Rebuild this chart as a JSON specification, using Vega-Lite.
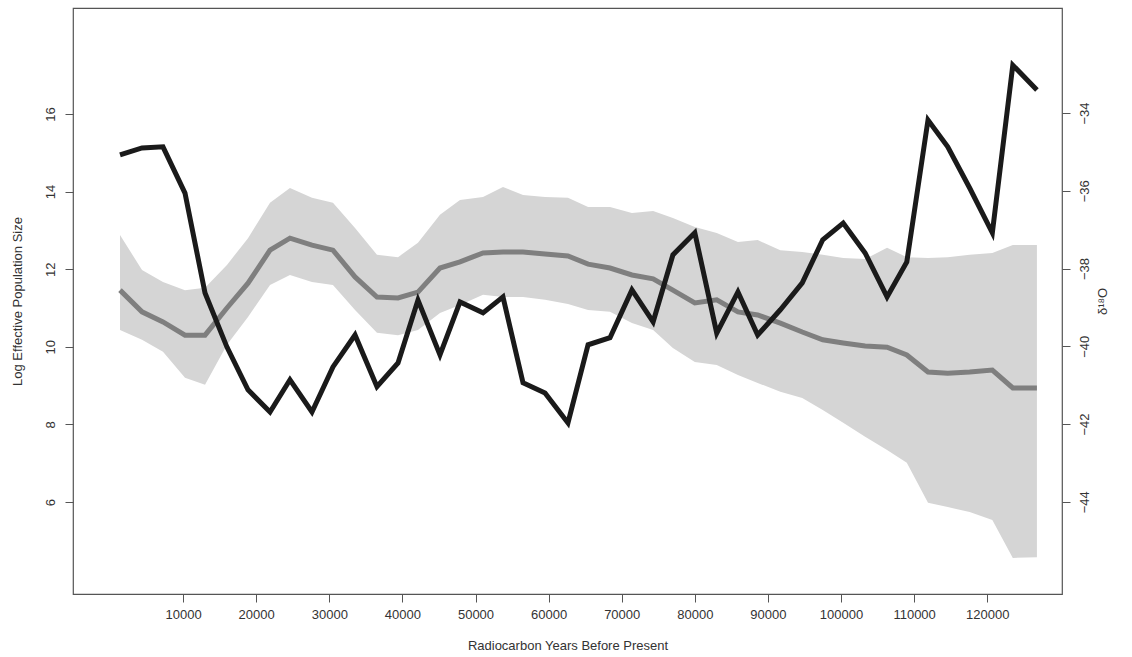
{
  "$schema": "https://vega.github.io/schema/vega-lite/v6.json",
  "width": 989,
  "height": 586,
  "autosize": {"type": "none"},
  "padding": {"left": 73, "top": 8, "right": 70, "bottom": 63},
  "background": "white",
  "config": {
    "view": {"stroke": "#555", "strokeWidth": 1.2},
    "axis": {"grid": false, "labelFont": "Liberation Sans", "titleFont": "Liberation Sans", "labelFontSize": 13, "titleFontSize": 13, "titleFontWeight": "normal", "labelColor": "#333", "titleColor": "#333", "domainColor": "#555", "tickColor": "#555", "tickSize": 8}
  },
  "data": {
    "values": [
      {"year": 1370, "mean": 11.46, "hi": 12.88, "lo": 10.43, "d18o": -35.08},
      {"year": 4380, "mean": 10.90, "hi": 11.98, "lo": 10.18, "d18o": -34.90},
      {"year": 7250, "mean": 10.64, "hi": 11.67, "lo": 9.87, "d18o": -34.87},
      {"year": 10260, "mean": 10.30, "hi": 11.46, "lo": 9.20, "d18o": -36.06},
      {"year": 13000, "mean": 10.30, "hi": 11.52, "lo": 9.02, "d18o": -38.63},
      {"year": 16000, "mean": 11.00, "hi": 12.11, "lo": 10.05, "d18o": -40.02},
      {"year": 18880, "mean": 11.64, "hi": 12.80, "lo": 10.77, "d18o": -41.12},
      {"year": 21890, "mean": 12.49, "hi": 13.71, "lo": 11.59, "d18o": -41.69},
      {"year": 24620, "mean": 12.80, "hi": 14.09, "lo": 11.85, "d18o": -40.86},
      {"year": 27630, "mean": 12.62, "hi": 13.84, "lo": 11.67, "d18o": -41.69},
      {"year": 30500, "mean": 12.49, "hi": 13.71, "lo": 11.59, "d18o": -40.53},
      {"year": 33520, "mean": 11.80, "hi": 13.06, "lo": 10.95, "d18o": -39.71},
      {"year": 36520, "mean": 11.28, "hi": 12.37, "lo": 10.36, "d18o": -41.04},
      {"year": 39400, "mean": 11.26, "hi": 12.31, "lo": 10.30, "d18o": -40.43},
      {"year": 42130, "mean": 11.41, "hi": 12.68, "lo": 10.43, "d18o": -38.81},
      {"year": 45140, "mean": 12.03, "hi": 13.40, "lo": 10.87, "d18o": -40.22},
      {"year": 47880, "mean": 12.19, "hi": 13.78, "lo": 11.08, "d18o": -38.86},
      {"year": 51030, "mean": 12.42, "hi": 13.86, "lo": 11.34, "d18o": -39.14},
      {"year": 53760, "mean": 12.44, "hi": 14.12, "lo": 11.28, "d18o": -38.73},
      {"year": 56500, "mean": 12.44, "hi": 13.91, "lo": 11.28, "d18o": -40.94},
      {"year": 59510, "mean": 12.39, "hi": 13.86, "lo": 11.21, "d18o": -41.20},
      {"year": 62650, "mean": 12.34, "hi": 13.84, "lo": 11.10, "d18o": -41.97},
      {"year": 65400, "mean": 12.13, "hi": 13.60, "lo": 10.95, "d18o": -39.96},
      {"year": 68400, "mean": 12.03, "hi": 13.60, "lo": 10.90, "d18o": -39.78},
      {"year": 71400, "mean": 11.85, "hi": 13.45, "lo": 10.61, "d18o": -38.55},
      {"year": 74300, "mean": 11.75, "hi": 13.50, "lo": 10.43, "d18o": -39.37},
      {"year": 77000, "mean": 11.46, "hi": 13.32, "lo": 9.97, "d18o": -37.65},
      {"year": 80000, "mean": 11.13, "hi": 13.09, "lo": 9.61, "d18o": -37.08},
      {"year": 83000, "mean": 11.21, "hi": 12.93, "lo": 9.53, "d18o": -39.66},
      {"year": 85900, "mean": 10.90, "hi": 12.70, "lo": 9.27, "d18o": -38.60},
      {"year": 88600, "mean": 10.82, "hi": 12.75, "lo": 9.07, "d18o": -39.71},
      {"year": 91700, "mean": 10.61, "hi": 12.49, "lo": 8.84, "d18o": -39.06},
      {"year": 94700, "mean": 10.38, "hi": 12.44, "lo": 8.68, "d18o": -38.37},
      {"year": 97500, "mean": 10.18, "hi": 12.37, "lo": 8.37, "d18o": -37.26},
      {"year": 100300, "mean": 10.10, "hi": 12.29, "lo": 8.04, "d18o": -36.83},
      {"year": 103300, "mean": 10.02, "hi": 12.26, "lo": 7.68, "d18o": -37.60},
      {"year": 106300, "mean": 9.99, "hi": 12.55, "lo": 7.34, "d18o": -38.73},
      {"year": 109000, "mean": 9.79, "hi": 12.31, "lo": 7.01, "d18o": -37.83},
      {"year": 111900, "mean": 9.35, "hi": 12.29, "lo": 5.98, "d18o": -34.18},
      {"year": 114600, "mean": 9.32, "hi": 12.31, "lo": 5.87, "d18o": -34.87},
      {"year": 117600, "mean": 9.35, "hi": 12.37, "lo": 5.74, "d18o": -35.93},
      {"year": 120700, "mean": 9.40, "hi": 12.42, "lo": 5.54, "d18o": -37.08},
      {"year": 123500, "mean": 8.94, "hi": 12.62, "lo": 4.56, "d18o": -32.77},
      {"year": 126800, "mean": 8.94, "hi": 12.62, "lo": 4.58, "d18o": -33.41}
    ]
  },
  "encoding": {
    "x": {
      "field": "year", "type": "quantitative",
      "scale": {"domain": [-5060, 130230], "nice": false, "zero": false},
      "axis": {"values": [10000, 20000, 30000, 40000, 50000, 60000, 70000, 80000, 90000, 100000, 110000, 120000], "format": "d", "title": "Radiocarbon Years Before Present", "labelPadding": 6, "titlePadding": 18, "domain": false}
    }
  },
  "layer": [
    {
      "encoding": {
        "y": {"field": "hi", "type": "quantitative", "scale": {"domain": [3.63, 18.73], "nice": false, "zero": false},
          "axis": {"values": [6, 8, 10, 12, 14, 16], "labelAngle": -90, "labelAlign": "center", "labelBaseline": "bottom", "labelPadding": 8, "title": "Log Effective Population Size", "titlePadding": 20, "domain": false}}
      },
      "layer": [
        {
          "mark": {"type": "area", "color": "#d5d5d5"},
          "encoding": {"y2": {"field": "lo"}}
        },
        {
          "mark": {"type": "line", "color": "#7f7f7f", "strokeWidth": 5},
          "encoding": {"y": {"field": "mean", "type": "quantitative"}}
        }
      ]
    },
    {
      "mark": {"type": "line", "color": "#1a1a1a", "strokeWidth": 5, "strokeJoin": "miter"},
      "encoding": {
        "y": {"field": "d18o", "type": "quantitative", "scale": {"domain": [-46.37, -31.30], "nice": false, "zero": false},
          "axis": {"orient": "right", "values": [-44, -42, -40, -38, -36, -34], "format": "d", "labelAngle": -90, "labelAlign": "center", "labelBaseline": "top", "labelPadding": 8, "title": "δ¹⁸O", "titleAngle": -90, "titlePadding": 18, "domain": false}}
      }
    }
  ],
  "resolve": {"scale": {"y": "independent"}}
}
